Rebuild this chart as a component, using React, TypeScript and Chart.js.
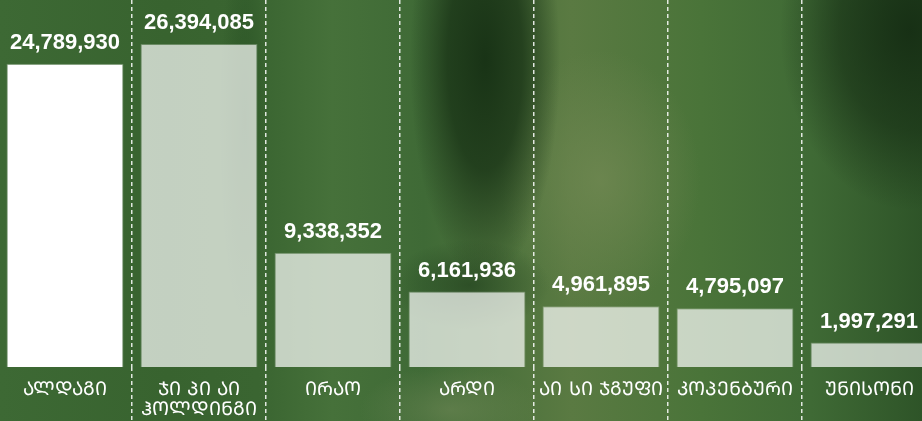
import React, { useEffect, useRef } from "react";
import { Chart, registerables } from "chart.js";

Chart.register(...registerables);

const categories: (string | string[])[] = [
  "ალდაგი",
  ["ჯი პი აი", "ჰოლდინგი"],
  "ირაო",
  "არდი",
  "აი სი ჯგუფი",
  "კოპენბური",
  "უნისონი",
];
const premiums: number[] = [24789930, 26394085, 9338352, 6161936, 4961895, 4795097, 1997291];
const barColors: string[] = [
  "#ffffff",
  "rgba(255,255,255,0.7)",
  "rgba(255,255,255,0.7)",
  "rgba(255,255,255,0.7)",
  "rgba(255,255,255,0.7)",
  "rgba(255,255,255,0.7)",
  "rgba(255,255,255,0.7)",
];
const yMax = 30000000;

// display Georgian in Mtavruli (caps) style, like the reference font
const toCaps = (s: string) =>
  s.replace(/[\u10D0-\u10FA]/g, (c) => String.fromCharCode(c.charCodeAt(0) + 0xbc0));
const displayLabels = categories.map((l) => (Array.isArray(l) ? l.map(toCaps) : toCaps(l)));

const valueLabels = {
  id: "valueLabels",
  afterDatasetsDraw(chart: any) {
    const ctx = chart.ctx;
    const meta = chart.getDatasetMeta(0);
    ctx.save();
    ctx.font = "bold 22px 'Liberation Sans', Arial, sans-serif";
    ctx.fillStyle = "#ffffff";
    ctx.textAlign = "center";
    ctx.textBaseline = "alphabetic";
    meta.data.forEach((bar: any, i: number) => {
      const v = chart.data.datasets[0].data[i] as number;
      ctx.fillText(v.toLocaleString("en-US"), bar.x, bar.y - 15);
    });
    ctx.restore();
  },
};

export default function App() {
  const ref = useRef<HTMLCanvasElement>(null);
  useEffect(() => {
    if (!ref.current) return;
    const chart = new Chart(ref.current, {
      type: "bar",
      data: {
        labels: displayLabels,
        datasets: [
          {
            data: premiums,
            backgroundColor: barColors,
            borderColor: "rgba(255,255,255,0.25)",
            borderWidth: 1,
            barPercentage: 0.873,
            categoryPercentage: 1.0,
          },
        ],
      },
      options: {
        responsive: false,
        animation: false,
        layout: { padding: 0 },
        plugins: { legend: { display: false }, tooltip: { enabled: false } },
        scales: {
          y: { display: false, min: 0, max: yMax },
          x: {
            offset: true,
            border: { display: false, dash: [4, 3] },
            grid: {
              offset: true,
              color: "rgba(255,255,255,0.85)",
              lineWidth: 1.5,
              tickLength: 54,
              tickColor: "rgba(255,255,255,0.85)",
              tickWidth: 1.5,
              tickBorderDash: [4, 3],
            },
            ticks: {
              color: "#ffffff",
              padding: -41,
              autoSkip: false,
              maxRotation: 0,
              font: { family: "'DejaVu Sans', 'Noto Sans'", size: 19, lineHeight: 1.05 },
            },
            afterFit: (scale: any) => {
              scale.height = 54;
            },
          },
        },
      },
      plugins: [valueLabels],
    });
    return () => chart.destroy();
  }, []);

  const bg = [
    "radial-gradient(75px 220px at 485px 60px, rgba(22,48,20,0.95) 0%, rgba(22,48,20,0.75) 50%, rgba(22,48,20,0) 100%)",
    "radial-gradient(130px 180px at 910px 30px, rgba(22,46,20,0.95) 0%, rgba(22,46,20,0.6) 55%, rgba(22,46,20,0) 100%)",
    "radial-gradient(100px 130px at 600px 180px, rgba(112,136,82,0.8) 0%, rgba(112,136,82,0) 100%)",
    "radial-gradient(90px 45px at 450px 410px, rgba(110,135,85,0.6) 0%, rgba(110,135,85,0) 100%)",
    "radial-gradient(80px 45px at 470px 285px, rgba(28,58,26,0.6) 0%, rgba(28,58,26,0) 100%)",
    "radial-gradient(25px 200px at 245px 120px, rgba(35,75,32,0.6) 0%, rgba(35,75,32,0) 100%)",
    "linear-gradient(to right, #3d6934 0%, #38632f 18%, #3a6531 28%, #46713a 36%, #3f6a36 46%, #5a7a42 62%, #4a7439 76%, #3f6a35 88%, #2e5428 100%)",
  ].join(", ");

  return (
    <div
      style={{
        position: "fixed",
        left: 0,
        top: 0,
        width: 922,
        height: 421,
        overflow: "hidden",
        background: bg,
      }}
    >
      <canvas
        ref={ref}
        width={938}
        height={421}
        style={{ position: "absolute", left: -2, top: 0, width: 938, height: 421 }}
      />
    </div>
  );
}
